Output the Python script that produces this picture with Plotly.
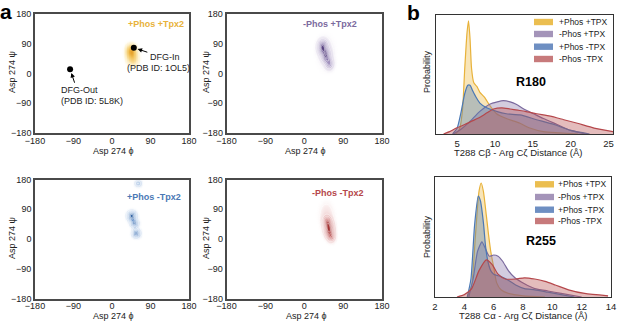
import numpy as np
import plotly.graph_objects as go

W, H = 617, 321
FONT = "Liberation Sans, Arial, sans-serif"


def fx(p):
    return p / W


def fy(p):
    return 1 - p / H


# ---------------- Panel a data: Ramachandran KDE blobs (phi, psi) ----------------
tick_angles = [-180, -90, 0, 90, 180]

pp_tpx_phi = [44, 46, 50]
pp_tpx_psi = [70, 55, 40]
pp_tpx_sphi = [7.5, 8.5, 8.5]
pp_tpx_spsi = [12, 15, 13]
pp_tpx_w = [1.0, 0.7, 0.3]

mp_tpx_phi = [42, 50, 58, 50]
mp_tpx_psi = [80, 55, 30, 62]
mp_tpx_sphi = [7, 6.5, 6, 13]
mp_tpx_spsi = [13, 12, 11, 32]
mp_tpx_w = [1.0, 0.8, 0.45, 0.12]

pm_ntpx_phi = [46, 52, 56, 61]
pm_ntpx_psi = [70, 48, 18, 168]
pm_ntpx_sphi = [6.5, 6, 6, 5.5]
pm_ntpx_spsi = [9, 7, 8, 7]
pm_ntpx_w = [1.0, 0.75, 0.8, 0.3]

mm_ntpx_phi = [57, 53, 62, 51]
mm_ntpx_psi = [30, 52, 8, 72]
mm_ntpx_sphi = [7, 6.5, 6, 11]
mm_ntpx_spsi = [14, 11, 11, 26]
mm_ntpx_w = [1.0, 0.6, 0.5, 0.13]

dfg_phi = [-98, 51]
dfg_psi = [13, 78]

# ---------------- Panel b data: distance distributions ----------------
series_names = ["+Phos +TPX", "-Phos +TPX", "+Phos -TPX", "-Phos -TPX"]

r180_pp_x = [4.8, 5.3, 5.7, 6.0, 6.3, 6.5, 6.7, 6.9, 7.2, 7.6, 8.0, 8.6, 9.3, 10.2, 11.5, 13.3, 14.6, 16.4, 18.5, 21.0]
r180_pp_y = [0, 0.04, 0.2, 0.55, 0.85, 0.95, 0.8, 0.55, 0.43, 0.40, 0.35, 0.31, 0.24, 0.17, 0.13, 0.09, 0.05, 0.02, 0.01, 0]
r180_mp_x = [4.5, 5.5, 6.6, 8.0, 9.3, 10.3, 11.1, 12.0, 12.8, 13.8, 15.1, 16.4, 18.2, 20.0, 22.0]
r180_mp_y = [0, 0.04, 0.10, 0.19, 0.25, 0.27, 0.28, 0.27, 0.25, 0.21, 0.17, 0.13, 0.08, 0.03, 0]
r180_pm_x = [4.4, 5.0, 5.5, 6.0, 6.4, 6.7, 7.0, 7.4, 8.0, 8.9, 10.2, 11.5, 13.3, 15.5, 17.8, 20.0, 22.5]
r180_pm_y = [0, 0.05, 0.18, 0.34, 0.41, 0.41, 0.37, 0.32, 0.26, 0.22, 0.19, 0.17, 0.16, 0.12, 0.08, 0.03, 0]
r180_mm_x = [3.2, 4.0, 4.9, 6.0, 7.0, 8.0, 9.0, 9.8, 10.9, 12.0, 13.0, 14.0, 15.5, 17.3, 19.1, 20.9, 23.1, 25.6]
r180_mm_y = [0, 0.02, 0.05, 0.08, 0.11, 0.14, 0.18, 0.21, 0.22, 0.21, 0.20, 0.19, 0.17, 0.15, 0.12, 0.09, 0.05, 0.02]

r255_pp_x = [4.2, 4.5, 4.75, 5.0, 5.15, 5.3, 5.5, 5.65, 5.8, 6.0, 6.2, 6.5, 7.0, 8.0, 9.5]
r255_pp_y = [0, 0.10, 0.50, 0.88, 0.95, 0.88, 0.68, 0.52, 0.38, 0.25, 0.12, 0.06, 0.03, 0.01, 0]
r255_mp_x = [4.3, 4.6, 4.9, 5.2, 5.45, 5.7, 6.0, 6.3, 6.6, 7.0, 7.45, 8.1, 8.8, 9.7, 10.6, 12.0]
r255_mp_y = [0, 0.15, 0.38, 0.46, 0.40, 0.34, 0.35, 0.34, 0.30, 0.22, 0.16, 0.11, 0.07, 0.05, 0.03, 0]
r255_pm_x = [4.2, 4.45, 4.7, 4.95, 5.1, 5.3, 5.45, 5.6, 5.8, 6.0, 6.5, 7.0, 7.5, 8.1, 8.8, 9.7, 10.6, 11.5]
r255_pm_y = [0, 0.15, 0.6, 0.84, 0.80, 0.62, 0.42, 0.30, 0.22, 0.19, 0.17, 0.14, 0.10, 0.07, 0.06, 0.04, 0.02, 0]
r255_mm_x = [3.5, 4.0, 4.5, 5.0, 5.5, 5.9, 6.3, 6.8, 7.5, 8.1, 8.8, 9.5, 10.2, 11.1, 12.2, 13.8]
r255_mm_y = [0, 0.02, 0.07, 0.22, 0.31, 0.27, 0.19, 0.15, 0.15, 0.16, 0.15, 0.13, 0.10, 0.06, 0.03, 0.01]

r180_ticks = [5, 10, 15, 20, 25]
r255_ticks = [2, 4, 6, 8, 10, 12, 14]

line_colors = ["#E8B23A", "#7B6A9E", "#4A78B5", "#B5474B"]
fill_colors = ["rgba(236,186,70,0.38)", "rgba(140,122,172,0.38)",
               "rgba(80,125,185,0.38)", "rgba(184,78,80,0.38)"]
patch_colors = ["#EBBE50", "#A494B9", "#6E8FC2", "#C77A7B"]

fig = go.Figure()

# ---------------- Panel a ----------------
grid = np.arange(-180, 181, 1.5)
GX, GY = np.meshgrid(grid, grid)


def kde(phis, psis, sphis, spsis, ws):
    z = np.zeros_like(GX)
    for c1, c2, s1, s2, w in zip(phis, psis, sphis, spsis, ws):
        z += w * np.exp(-0.5 * (((GX - c1) / s1) ** 2 + ((GY - c2) / s2) ** 2))
    return z


blobs = [
    (kde(pp_tpx_phi, pp_tpx_psi, pp_tpx_sphi, pp_tpx_spsi, pp_tpx_w),
     [[0, "rgba(255,255,255,0)"], [0.08, "rgba(253,242,205,0.6)"], [0.35, "#F8DD98"],
      [0.7, "#F2C259"], [1, "#E6A22C"]], "rgba(0,0,0,0)", 1),
    (kde(mp_tpx_phi, mp_tpx_psi, mp_tpx_sphi, mp_tpx_spsi, mp_tpx_w),
     [[0, "rgba(255,255,255,0)"], [0.06, "#F4F1F7"], [0.3, "#C9BEDA"], [0.6, "#8E7CB0"],
      [1, "#56407E"]], "rgba(255,255,255,0.85)", 2),
    (kde(pm_ntpx_phi, pm_ntpx_psi, pm_ntpx_sphi, pm_ntpx_spsi, pm_ntpx_w),
     [[0, "rgba(255,255,255,0)"], [0.06, "#EEF3FA"], [0.3, "#B5CCE8"], [0.6, "#6994CB"],
      [1, "#2C5E9F"]], "rgba(255,255,255,0.85)", 3),
    (kde(mm_ntpx_phi, mm_ntpx_psi, mm_ntpx_sphi, mm_ntpx_spsi, mm_ntpx_w),
     [[0, "rgba(255,255,255,0)"], [0.06, "#FAEEEE"], [0.3, "#E8B5B5"], [0.6, "#C86A6A"],
      [1, "#A02F2F"]], "rgba(255,255,255,0.85)", 4),
]
for z, cs, lc, k in blobs:
    ax = "" if k == 1 else str(k)
    zmax = float(z.max())
    fig.add_trace(go.Contour(
        x=grid, y=grid, z=z, xaxis="x" + ax, yaxis="y" + ax,
        colorscale=cs, zmin=0, zmax=zmax, showscale=False,
        contours=dict(start=0.05 * zmax, end=zmax, size=0.12 * zmax, coloring="heatmap"),
        line=dict(color=lc, width=0.6, smoothing=1.2),
        hoverinfo="skip"))

fig.add_trace(go.Scatter(x=dfg_phi, y=dfg_psi, mode="markers", xaxis="x", yaxis="y",
                         marker=dict(color="black", size=6), hoverinfo="skip"))

# ---------------- Panel b ----------------
r180 = [(r180_pp_x, r180_pp_y), (r180_mp_x, r180_mp_y), (r180_pm_x, r180_pm_y), (r180_mm_x, r180_mm_y)]
r255 = [(r255_pp_x, r255_pp_y), (r255_mp_x, r255_mp_y), (r255_pm_x, r255_pm_y), (r255_mm_x, r255_mm_y)]
for data, k in ((r180, 5), (r255, 6)):
    for i, (xs, ys) in enumerate(data):
        fig.add_trace(go.Scatter(
            x=xs, y=ys, mode="lines", name=series_names[i], xaxis="x%d" % k, yaxis="y%d" % k,
            line=dict(color=line_colors[i], width=1.2, shape="spline", smoothing=0.6),
            fill="tozeroy", fillcolor=fill_colors[i], hoverinfo="skip"))

# ---------------- Axes ----------------
a_dom = {
    1: ([35, 189], [14, 133]),
    2: ([226.5, 382], [14, 133]),
    3: ([35, 189], [179.5, 298.5]),
    4: ([226.5, 382], [179.5, 298.5]),
}
lay = {}
for k, (xd, yd) in a_dom.items():
    s = "" if k == 1 else str(k)
    lay["xaxis" + s] = dict(domain=[fx(xd[0]), fx(xd[1])], anchor="y" + s, range=[-180, 180],
                            tickvals=tick_angles, ticks="", showgrid=False, zeroline=False,
                            showline=True, mirror=True, linecolor="#4a4a4a", linewidth=1.6,
                            automargin=False, ticklabelstandoff=-2,
                            tickfont=dict(size=9, color="#222"))
    lay["yaxis" + s] = dict(domain=[fy(yd[1]), fy(yd[0])], anchor="x" + s, range=[-180, 180],
                            tickvals=tick_angles, ticks="", showgrid=False, zeroline=False,
                            showline=True, mirror=True, linecolor="#4a4a4a", linewidth=1.6,
                            automargin=False, tickfont=dict(size=9, color="#222"))

b_dom = {5: ([436, 613], [15, 134], [2.2, 25.6], r180_ticks),
         6: ([435, 611], [177, 297], [2, 14], r255_ticks)}
for k, (xd, yd, rng, tv) in b_dom.items():
    lay["xaxis%d" % k] = dict(domain=[fx(xd[0]), fx(xd[1])], anchor="y%d" % k, range=rng,
                              tickvals=tv, ticks="", showgrid=False, zeroline=False,
                              showline=True, mirror=True, linecolor="#333", linewidth=1.2,
                              automargin=False, tickfont=dict(size=9.5, color="#222"))
    lay["yaxis%d" % k] = dict(domain=[fy(yd[1]), fy(yd[0])], anchor="x%d" % k, range=[0, 1.0],
                              showticklabels=False, ticks="", showgrid=False, zeroline=False,
                              showline=True, mirror=True, linecolor="#333", linewidth=1.2,
                              automargin=False)

# ---------------- Annotations ----------------
ann = []


def text(x, y, s, size=9, color="#222", bold=False, xanchor="center", angle=0):
    ann.append(dict(x=fx(x), y=fy(y), xref="paper", yref="paper", text=("<b>%s</b>" % s) if bold else s,
                    showarrow=False, xanchor=xanchor, yanchor="middle", textangle=angle,
                    font=dict(family=FONT, size=size, color=color)))


text(6, 11, "a", size=21, color="black", bold=True)
text(413, 12, "b", size=21, color="black", bold=True)

for cx, cy in ((113, 150.5), (305, 150.5), (113, 316), (306, 316)):
    text(cx, cy, "Asp 274 ϕ", size=9)
for cx, cy in ((12, 72), (206, 72), (12, 238), (206, 238)):
    text(cx, cy, "Asp 274 ψ", size=9, angle=-90)

text(156, 24, "+Phos +Tpx2", size=9, color="#E8B23A", bold=True)
text(330, 24, "-Phos +Tpx2", size=9, color="#7B6A9E", bold=True)
text(154, 197, "+Phos -Tpx2", size=9, color="#4A78B5", bold=True)
text(338, 193, "-Phos -Tpx2", size=9, color="#B5474B", bold=True)

text(59, 90, "DFG-Out", size=9, xanchor="left")
text(59, 101, "(PDB ID: 5L8K)", size=9, xanchor="left")
text(148, 57, "DFG-In", size=9, xanchor="left")
text(125, 68, "(PDB ID: 1OL5)", size=9, xanchor="left")

for (px_, py_), (dx, dy) in zip(zip(dfg_phi, dfg_psi), ((5, 15), (15, 5))):
    ann.append(dict(x=px_, y=py_, xref="x", yref="y", ax=dx, ay=dy, text="", showarrow=True,
                    arrowhead=2, arrowsize=0.9, arrowwidth=1, arrowcolor="black", standoff=4))

text(427, 72, "Probability", size=9, angle=-90)
text(427, 237, "Probability", size=9, angle=-90)
text(518, 152, "T288 Cβ - Arg Cζ Distance (Å)", size=9.5)
text(523, 315, "T288 Cα - Arg Cζ Distance (Å)", size=9.5)
text(531, 82, "R180", size=12.5, color="black", bold=True)
text(541, 241, "R255", size=12.5, color="black", bold=True)

shapes = []
for rows, xl, xt in (([22, 34, 46.7, 59], 534, 557), ([184.3, 197, 209.7, 221], 535, 556)):
    for i, ry in enumerate(rows):
        shapes.append(dict(type="rect", xref="paper", yref="paper", x0=fx(xl), x1=fx(xl + 19),
                           y0=fy(ry + 3.2), y1=fy(ry - 3.2), fillcolor=patch_colors[i], line=dict(width=0)))
        text(xt, ry, series_names[i], size=8.5, xanchor="left")

fig.update_layout(
    width=W, height=H, margin=dict(l=0, r=0, t=0, b=0, autoexpand=False),
    paper_bgcolor="white", plot_bgcolor="white", showlegend=False,
    font=dict(family=FONT, size=9, color="#222"),
    annotations=ann, shapes=shapes, **lay)

fig.write_html("out.html", config={"displayModeBar": False},
               post_script="document.body.style.margin='0';document.body.style.padding='0';")
